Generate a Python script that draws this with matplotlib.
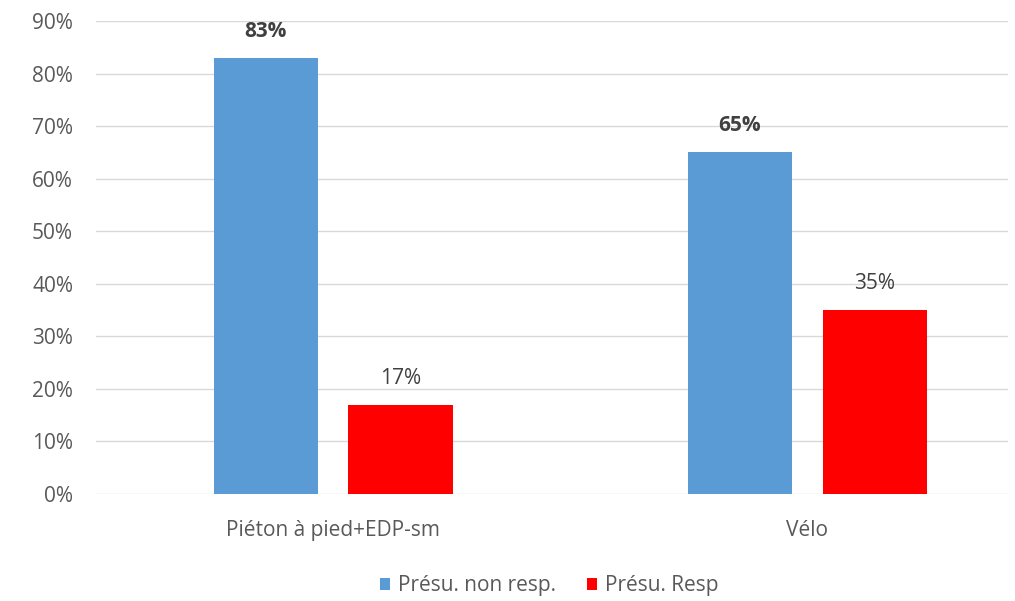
import matplotlib.pyplot as plt
import numpy as np
from matplotlib.ticker import FuncFormatter

categories = ["Piéton à pied+EDP-sm", "Vélo"]
series_names = ["Présu. non resp.", "Présu. Resp"]
non_resp = [0.83, 0.65]
resp = [0.17, 0.35]

plt.rcParams["font.family"] = ["Open Sans", "DejaVu Sans"]
TEXT = "#595959"
GRID = "#D9D9D9"
colors = ["#5B9BD5", "#FF0000"]
FS = 15

fig = plt.figure(figsize=(10.15, 6.01), dpi=100)
ax = fig.add_axes([96 / 1015, 107 / 601, 912 / 1015, 473 / 601])

x = np.arange(len(categories))
width = 0.22
offset = 0.142

bars1 = ax.bar(x - offset, non_resp, width, color=colors[0], label=series_names[0], zorder=3)
bars2 = ax.bar(x + offset, resp, width, color=colors[1], label=series_names[1], zorder=3)

for rect, v in zip(bars1, non_resp):
    ax.annotate(f"{v * 100:.0f}%", (rect.get_x() + rect.get_width() / 2, v),
                xytext=(0, 19), textcoords="offset points", ha="center", va="center",
                fontsize=FS, fontweight="bold", color="#404040")
for rect, v in zip(bars2, resp):
    ax.annotate(f"{v * 100:.0f}%", (rect.get_x() + rect.get_width() / 2, v),
                xytext=(0, 19), textcoords="offset points", ha="center", va="center",
                fontsize=FS, color="#404040")

ax.set_ylim(0, 0.9)
ax.set_yticks(np.arange(0, 0.91, 0.1))
ax.yaxis.set_major_formatter(FuncFormatter(lambda v, _: f"{v * 100:.0f}%"))
ax.set_xlim(-0.5, 1.423)
ax.set_xticks(x)
ax.set_xticklabels(categories)

ax.grid(axis="y", color=GRID, linewidth=1, zorder=0)
for s in ["top", "right", "left", "bottom"]:
    ax.spines[s].set_visible(False)
ax.tick_params(axis="both", length=0, labelsize=FS, colors=TEXT)
ax.tick_params(axis="y", pad=16.5)
ax.tick_params(axis="x", pad=18.5)

fig.legend(handles=[bars1, bars2], labels=series_names, loc="center",
           bbox_to_anchor=(549 / 1015, 1 - 586 / 601), ncol=2, frameon=False,
           fontsize=FS, labelcolor=TEXT, handlelength=0.5, handleheight=0.5,
           handletextpad=0.35, columnspacing=1.5)

fig.savefig("out.png", dpi=100)
